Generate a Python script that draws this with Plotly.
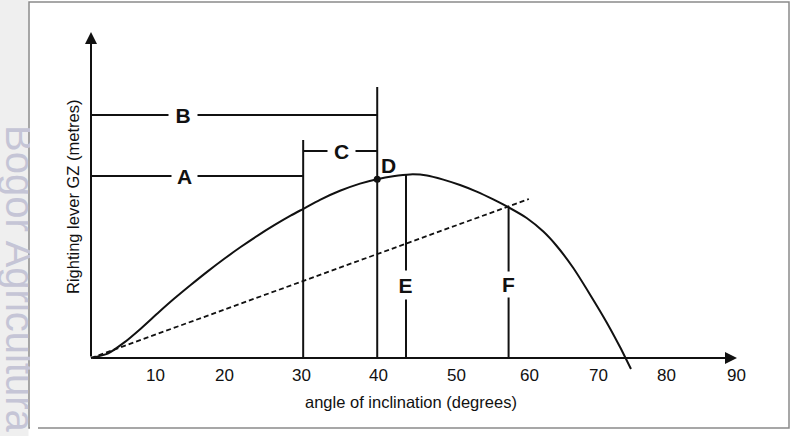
import plotly.graph_objects as go

# ---- data (x: degrees, y: GZ in arbitrary units) ----
curve_deg = [0, 2.35, 4.68, 7.02, 9.37, 11.70, 14.04, 16.39, 18.72, 21.07, 23.41,
             25.74, 28.09, 29.82, 32.16, 34.97, 37.78, 40.17, 42.42, 44.8, 47.19,
             49.48, 51.83, 54.17, 56.5, 58.61, 61.19, 63.53, 65.41, 67.74, 70.08,
             72.43, 74.3, 75.84]
curve_gz = [0, 0.022, 0.078, 0.148, 0.224, 0.297, 0.366, 0.433, 0.496, 0.556, 0.612,
            0.664, 0.713, 0.746, 0.791, 0.836, 0.872, 0.894, 0.909, 0.918, 0.913,
            0.892, 0.865, 0.832, 0.793, 0.754, 0.700, 0.632, 0.560, 0.450, 0.318,
            0.178, 0.055, -0.055]

dashed_deg = [0, 61.5]
dashed_gz = [0, 0.795]

vline_deg = [29.8, 40.2, 44.24, 58.65]
vline_top = [1.09, 1.355, 0.918, 0.755]

hline_gz = [1.215, 0.91, 1.035]
hline_x0 = [0, 0, 29.8]
hline_x1 = [40.2, 29.8, 40.2]

point_d = (40.2, 0.894)

labels = ["B", "A", "C", "D", "E", "F"]
label_deg = [12.92, 13.2, 35.2, 41.85, 44.24, 58.65]
label_gz = [1.215, 0.91, 1.035, 0.965, 0.3675, 0.37]
label_gap_w = [28, 25, 27, 0, 19, 19]
label_gap_h = [22, 22, 22, 0, 28, 25]

tick_labels = ["10", "20", "30", "40", "50", "60", "70", "80", "90"]
tick_pos = [8.99, 18.68, 29.63, 40.31, 51.4, 61.52, 71.21, 80.76, 90.59]
tick_gz = -0.088

x_arrow_tip = 90.73
y_arrow_tip = 1.63

# ---- layout geometry ----
W, H = 798, 436
ML, MR, MT, MB = 60, 40, 20, 51
PW, PH = W - ML - MR, H - MT - MB
PX_PER_DEG = 7.12
PX_PER_GZ = 200.0
X0_PX, Y0_PX = 91, 358
x_range = [(ML - X0_PX) / PX_PER_DEG, (W - MR - X0_PX) / PX_PER_DEG]
y_range = [(Y0_PX - (H - MB)) / PX_PER_GZ, (Y0_PX - MT) / PX_PER_GZ]


def fx(px):
    return (px - ML) / PW


def fy(py):
    return (H - MB - py) / PH


FONT = "Liberation Sans, Arial, sans-serif"
INK = "#111111"

fig = go.Figure()

# vertical and horizontal construction lines
vx, vy = [], []
for x, top in zip(vline_deg, vline_top):
    vx += [x, x, None]
    vy += [0, top, None]
for y, a, b in zip(hline_gz, hline_x0, hline_x1):
    vx += [a, b, None]
    vy += [y, y, None]
fig.add_trace(go.Scatter(x=vx, y=vy, mode="lines",
                         line=dict(color=INK, width=2), hoverinfo="skip"))

# dashed line
fig.add_trace(go.Scatter(x=dashed_deg, y=dashed_gz, mode="lines",
                         line=dict(color=INK, width=1.8, dash="5px,3px"),
                         hoverinfo="skip"))

# GZ curve
fig.add_trace(go.Scatter(x=curve_deg, y=curve_gz, mode="lines",
                         line=dict(color=INK, width=2, shape="spline", smoothing=0.6),
                         hoverinfo="skip"))

# point D
fig.add_trace(go.Scatter(x=[point_d[0]], y=[point_d[1]], mode="markers",
                         marker=dict(color=INK, size=7), hoverinfo="skip"))

annotations = []

# watermark (left strip)
annotations.append(dict(xref="paper", yref="paper", x=fx(20), y=fy(279),
                        text="Bogor Agricultura", showarrow=False, textangle=90,
                        font=dict(family=FONT, size=40, color="#c5c5d6"),
                        xanchor="center", yanchor="middle"))
# white cover so the watermark appears behind the chart frame
annotations.append(dict(xref="paper", yref="paper", x=fx(30.2), y=fy(265),
                        text=" ", showarrow=False, width=8, height=340,
                        bgcolor="white", borderpad=0, borderwidth=0,
                        xanchor="left", yanchor="middle"))

# axes with arrows
annotations.append(dict(xref="x", yref="y", axref="x", ayref="y",
                        x=x_arrow_tip, y=0, ax=0, ay=0, text="", showarrow=True,
                        arrowhead=2, arrowsize=1.2, arrowwidth=2, arrowcolor=INK,
                        standoff=0, startstandoff=0))
annotations.append(dict(xref="x", yref="y", axref="x", ayref="y",
                        x=0, y=y_arrow_tip, ax=0, ay=0, text="", showarrow=True,
                        arrowhead=2, arrowsize=1.2, arrowwidth=2, arrowcolor=INK,
                        standoff=0, startstandoff=0))

# tick labels
for t, p in zip(tick_labels, tick_pos):
    annotations.append(dict(xref="x", yref="y", x=p, y=tick_gz, text=t,
                            showarrow=False, xanchor="center", yanchor="middle",
                            font=dict(family=FONT, size=17, color=INK)))

# letter labels
for t, x, y, w, h in zip(labels, label_deg, label_gz, label_gap_w, label_gap_h):
    a = dict(xref="x", yref="y", x=x, y=y, text="<b>%s</b>" % t,
             showarrow=False, xanchor="center", yanchor="middle",
             font=dict(family=FONT, size=21, color=INK))
    if w:
        a.update(width=w, height=h, bgcolor="white", borderpad=0)
    annotations.append(a)

# axis titles
annotations.append(dict(xref="paper", yref="paper", x=fx(411), y=fy(402),
                        text="angle of inclination (degrees)", showarrow=False,
                        xanchor="center", yanchor="middle",
                        font=dict(family=FONT, size=16.5, color=INK)))
annotations.append(dict(xref="paper", yref="paper", x=fx(73), y=fy(197),
                        text="Righting lever GZ (metres)", showarrow=False,
                        textangle=-90, xanchor="center", yanchor="middle",
                        font=dict(family=FONT, size=16.5, color=INK)))

shapes = [
    # grey strip on the left
    dict(type="rect", xref="paper", yref="paper", x0=fx(0), x1=fx(28.5),
         y0=fy(H), y1=fy(0), fillcolor="#efefef", line=dict(width=0), layer="below"),
    # chart frame
    dict(type="rect", xref="paper", yref="paper", x0=fx(29), x1=fx(789),
         y0=fy(428), y1=fy(2), fillcolor="white",
         line=dict(color="#8a8a8a", width=1.5), layer="below"),
]

fig.update_layout(
    width=W, height=H,
    margin=dict(l=ML, r=MR, t=MT, b=MB),
    paper_bgcolor="white", plot_bgcolor="rgba(0,0,0,0)",
    showlegend=False,
    xaxis=dict(range=x_range, showgrid=False, zeroline=False, showline=False,
               showticklabels=False, ticks="", fixedrange=True),
    yaxis=dict(range=y_range, showgrid=False, zeroline=False, showline=False,
               showticklabels=False, ticks="", fixedrange=True),
    annotations=annotations,
    shapes=shapes,
)

fig.write_html("out.html",
               config={"displayModeBar": False, "staticPlot": True},
               post_script="document.body.style.margin='0px';"
                           "document.body.style.overflow='hidden';")
